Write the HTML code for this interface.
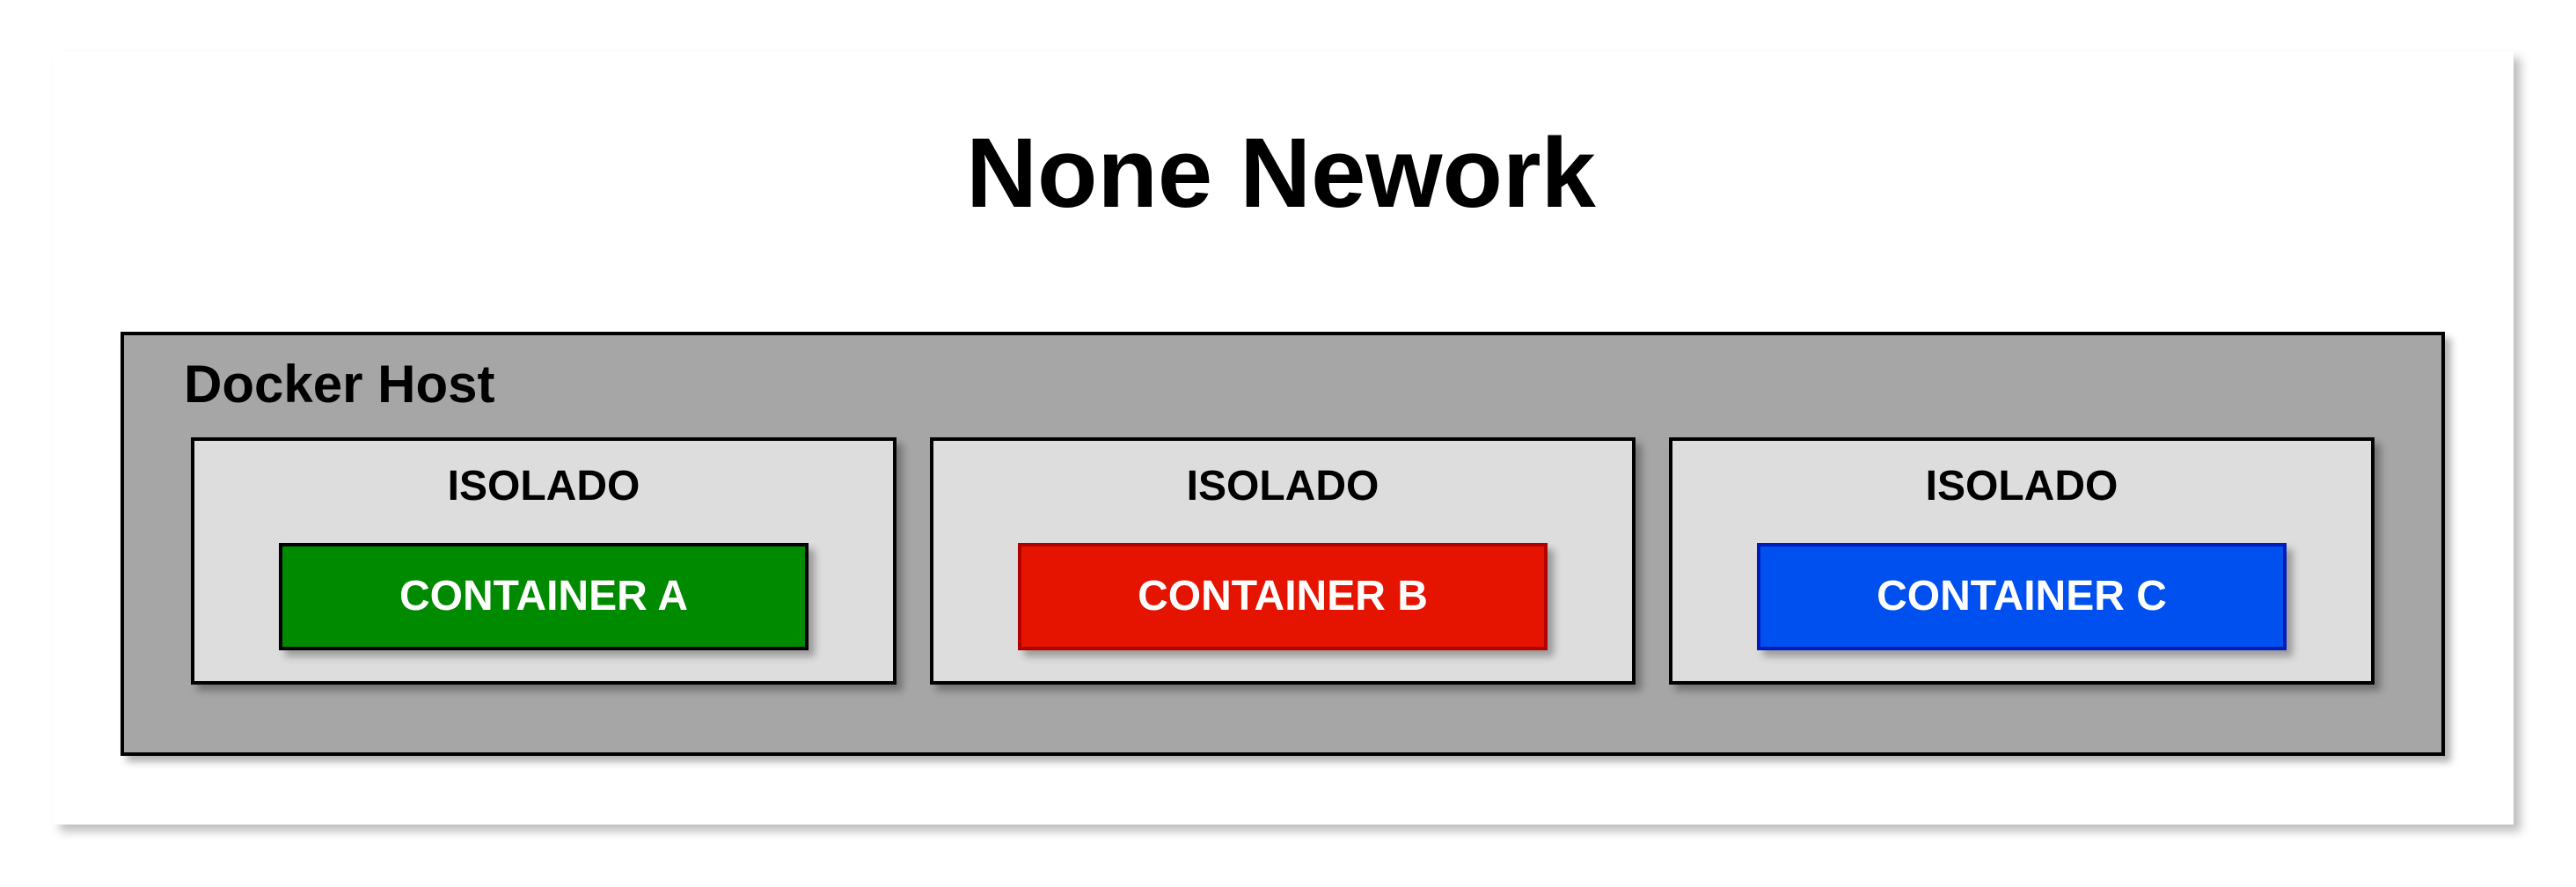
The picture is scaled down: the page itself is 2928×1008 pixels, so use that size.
<!DOCTYPE html>
<html><head><meta charset="utf-8"><style>
body{margin:0;width:2928px;height:1008px;background:#fff;position:relative;overflow:hidden;font-family:"Liberation Sans",Arial,sans-serif;font-weight:bold}
div{position:absolute;box-sizing:border-box}
.card{left:60px;top:58px;width:2797px;height:879px;background:#fff;box-shadow:8px 8px 10px rgba(0,0,0,0.25)}
.title{left:-8px;width:100%;top:132px;text-align:center;font-size:112px;line-height:130px;color:#000}
.host{left:137px;top:377px;width:2642px;height:482px;background:#a6a6a6;border:4px solid #000;box-shadow:7px 7px 8px rgba(0,0,0,0.3)}
.hl{left:209px;top:402px;font-size:60px;line-height:70px}
.iso{top:497px;width:802px;height:281px;background:#dddddd;border:4px solid #000;box-shadow:7px 7px 8px rgba(0,0,0,0.3)}
.il{left:0;width:100%;top:22px;text-align:center;font-size:48px;line-height:60px}
.c{left:96px;top:116px;width:602px;height:122px;border:4px solid #000;color:#fff;text-align:center;font-size:48px;line-height:114px;box-shadow:7px 7px 8px rgba(0,0,0,0.3)}
</style></head><body>
<div class="card"></div>
<div class="title">None Nework</div>
<div class="host"></div>
<div class="hl">Docker Host</div>
<div class="iso" style="left:217px"><div class="il">ISOLADO</div><div class="c" style="background:#008a00;border-color:#000">CONTAINER A</div></div>
<div class="iso" style="left:1057px"><div class="il">ISOLADO</div><div class="c" style="background:#e51400;border-color:#b20000">CONTAINER B</div></div>
<div class="iso" style="left:1897px"><div class="il">ISOLADO</div><div class="c" style="background:#0050ef;border-color:#001dbc">CONTAINER C</div></div>
</body></html>
